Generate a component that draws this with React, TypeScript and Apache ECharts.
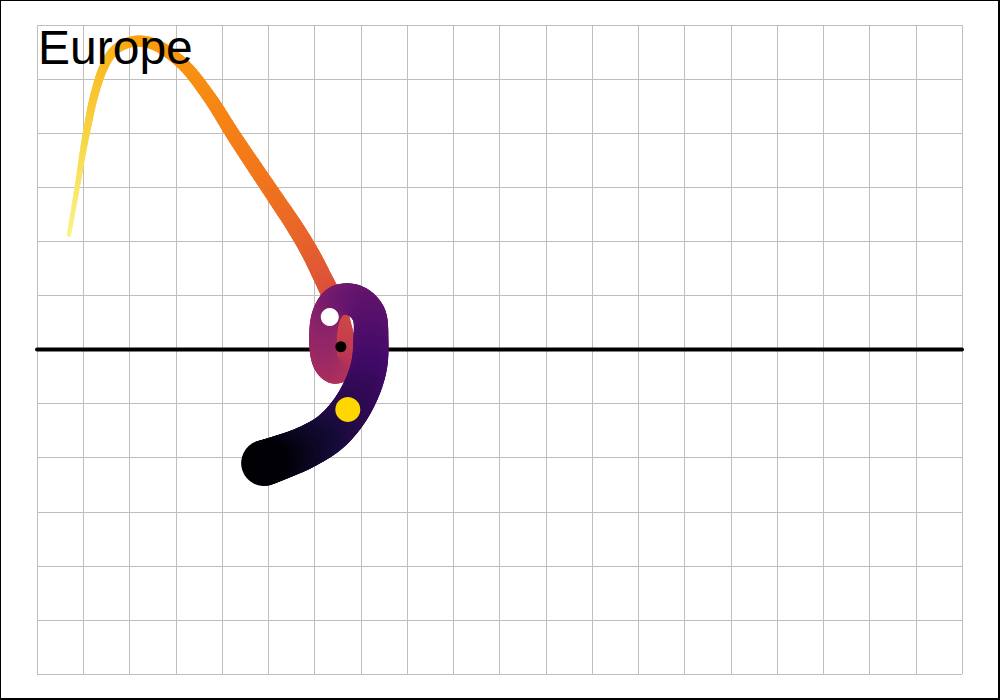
import React, { useEffect, useRef } from "react";
import * as echarts from "echarts";

// Track (axis units: x 0..20, y -6..6), drawn from the thin yellow end to the thick black end
const trackX = [0.69, 0.87, 1.0, 1.1, 1.23, 1.43, 1.69, 2.12, 2.62, 3.2, 3.74, 4.22, 4.71, 5.19, 5.58, 5.9, 6.16, 6.4, 6.57, 6.66, 6.64, 6.42, 6.23, 6.18, 6.25, 6.49, 6.88, 7.18, 7.22, 7.18, 7.0, 6.7, 6.3, 5.78, 5.28, 4.91];
const trackY = [2.12, 3.0, 3.69, 4.15, 4.67, 5.2, 5.54, 5.7, 5.61, 5.24, 4.65, 4.0, 3.37, 2.76, 2.26, 1.8, 1.36, 0.92, 0.45, -0.01, -0.31, -0.4, -0.21, 0.18, 0.62, 0.9, 0.9, 0.64, 0.19, -0.3, -0.76, -1.2, -1.56, -1.82, -1.99, -2.1];
const trackLevel = [0.97, 0.94, 0.91, 0.89, 0.87, 0.85, 0.83, 0.8, 0.78, 0.76, 0.74, 0.72, 0.7, 0.68, 0.66, 0.64, 0.62, 0.59, 0.56, 0.53, 0.5, 0.47, 0.44, 0.41, 0.38, 0.34, 0.3, 0.27, 0.24, 0.21, 0.18, 0.15, 0.12, 0.08, 0.04, 0.0];

// Markers
const markerX = [6.33, 6.57, 6.72];
const markerY = [0.6, 0.05, -1.11];
const markerColors = ["#ffffff", "#000000", "#ffd700"];
const markerSizes = [18, 11, 25];

const titleText = "Europe";

const inferno = ["#000004", "#160B39", "#420A68", "#6A176E", "#932667", "#BC3754", "#DD513A", "#F37819", "#FCA50A", "#F6D746", "#FCFFA4"];

function hexToRgb(h: string) {
  const v = parseInt(h.slice(1), 16);
  return [(v >> 16) & 255, (v >> 8) & 255, v & 255];
}
function colorAt(t: number) {
  const s = Math.max(0, Math.min(1, t)) * (inferno.length - 1);
  const i = Math.min(inferno.length - 2, Math.floor(s));
  const f = s - i;
  const a = hexToRgb(inferno[i]);
  const b = hexToRgb(inferno[i + 1]);
  const c = a.map((v, k) => Math.round(v + (b[k] - v) * f));
  return `rgb(${c[0]},${c[1]},${c[2]})`;
}
function widthAt(t: number) {
  return Math.max(3, 42 - 39 * t + 4 * (1 - t) * (1 - t));
}

const SUB = 8;

export default function App() {
  const ref = useRef<HTMLDivElement>(null);
  useEffect(() => {
    if (!ref.current) return;
    const chart = echarts.init(ref.current, null, { renderer: "svg" });
    const n = trackX.length;
    const clampIdx = (k: number) => Math.max(0, Math.min(n - 1, k));
    const option: any = {
      animation: false,
      backgroundColor: "#ffffff",
      grid: { left: 37, top: 25, width: 925, height: 649 },
      xAxis: {
        type: "value",
        min: 0,
        max: 20,
        interval: 1,
        axisLine: { show: false },
        axisTick: { show: false },
        axisLabel: { show: false },
        splitLine: { show: true, lineStyle: { color: "#bebebe", width: 1 } },
      },
      yAxis: {
        type: "value",
        min: -6,
        max: 6,
        interval: 1,
        axisLine: { show: false },
        axisTick: { show: false },
        axisLabel: { show: false },
        splitLine: { show: true, lineStyle: { color: "#bebebe", width: 1 } },
      },
      series: [
        {
          type: "line",
          data: [
            [0, 0],
            [20, 0],
          ],
          symbol: "none",
          lineStyle: { color: "#000000", width: 4, cap: "round" },
          silent: true,
          z: 2,
        },
        {
          type: "custom",
          data: trackX.map((x, i) => [x, trackY[i], trackLevel[i]]),
          encode: { x: 0, y: 1 },
          z: 3,
          renderItem: (params: any, api: any) => {
            const i = params.dataIndex;
            if (i >= n - 1) return { type: "group", children: [] };
            const p = (k: number) => {
              const j = clampIdx(k);
              return api.coord([trackX[j], trackY[j]]);
            };
            const p0 = p(i - 1), p1 = p(i), p2 = p(i + 1), p3 = p(i + 2);
            const c1 = [p1[0] + (p2[0] - p0[0]) / 6, p1[1] + (p2[1] - p0[1]) / 6];
            const c2 = [p2[0] - (p3[0] - p1[0]) / 6, p2[1] - (p3[1] - p1[1]) / 6];
            const bez = (u: number) => {
              const a = (1 - u) * (1 - u) * (1 - u);
              const b = 3 * (1 - u) * (1 - u) * u;
              const c = 3 * (1 - u) * u * u;
              const d = u * u * u;
              return [
                a * p1[0] + b * c1[0] + c * c2[0] + d * p2[0],
                a * p1[1] + b * c1[1] + c * c2[1] + d * p2[1],
              ];
            };
            const t1 = trackLevel[i];
            const t2 = trackLevel[i + 1];
            const children: any[] = [];
            for (let s = 0; s < SUB; s++) {
              const ua = s / SUB;
              const ub = (s + 1) / SUB;
              const um = (ua + ub) / 2;
              const a = bez(ua);
              const b = bez(ub);
              const tm = t1 + (t2 - t1) * um;
              children.push({
                type: "line",
                shape: { x1: a[0], y1: a[1], x2: b[0], y2: b[1] },
                style: {
                  stroke: colorAt(tm),
                  lineWidth: widthAt(tm),
                  lineCap: "round",
                  fill: null,
                },
              });
            }
            return { type: "group", children };
          },
        },
        {
          type: "scatter",
          z: 4,
          data: markerX.map((x, i) => ({
            value: [x, markerY[i]],
            symbolSize: markerSizes[i],
            itemStyle: { color: markerColors[i], borderWidth: 0, opacity: 1 },
          })),
          symbol: "circle",
          silent: true,
        },
      ],
      graphic: [
        {
          type: "text",
          left: 38,
          top: 23,
          z: 100,
          style: {
            text: titleText,
            fontFamily: "Liberation Sans, Arial, sans-serif",
            fontSize: 48,
            fill: "#000000",
          },
        },
        {
          type: "rect",
          shape: { x: 0, y: 0, width: 999, height: 699 },
          style: { fill: null, stroke: "#000000", lineWidth: 2 },
          z: 100,
          silent: true,
        },
      ],
    };
    chart.setOption(option);
    return () => chart.dispose();
  }, []);
  return (
    <div
      ref={ref}
      style={{ position: "fixed", left: 0, top: 0, width: 1000, height: 700 }}
    />
  );
}
